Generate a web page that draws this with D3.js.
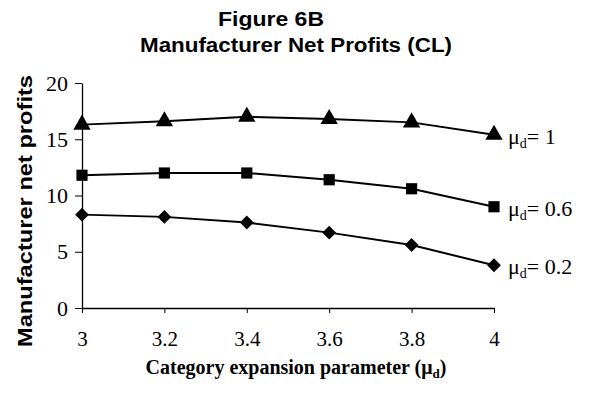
<!DOCTYPE html>
<html>
<head>
<meta charset="utf-8">
<script src="https://cdn.jsdelivr.net/npm/d3@7"></script>
<style>
  body { margin: 0; background: #fff; }
</style>
</head>
<body>
<script>
// x values (category expansion parameter)
var xValues = [3, 3.2, 3.4, 3.6, 3.8, 4];

// one series per mu_d
var mu1 = [16.3, 16.6, 17.0, 16.8, 16.5, 15.4];
var mu06 = [11.8, 12.0, 12.0, 11.4, 10.6, 9.0];
var mu02 = [8.3, 8.1, 7.6, 6.7, 5.6, 3.8];

var seriesNames = ["1", "0.6", "0.2"];
var yTicks = [0, 5, 10, 15, 20];

var width = 600, height = 400;
var margin = ({top: 83, right: 106, bottom: 92, left: 82});

var svg = d3.select("body").append("svg")
    .attr("width", width)
    .attr("height", height);

var x = d3.scaleLinear()
    .domain([3, 4])
    .range([margin.left, width - margin.right]);

var y = d3.scaleLinear()
    .domain([0, 20])
    .range([height - margin.bottom, margin.top]);

var serif = "'Liberation Serif', 'Times New Roman', serif";
var sans = "'Liberation Sans', Arial, sans-serif";

// title (stretched a bit wide like the scan)
svg.append("text")
    .attr("x", 271).attr("y", 26)
    .attr("text-anchor", "middle")
    .attr("textLength", 106).attr("lengthAdjust", "spacingAndGlyphs")
    .style("font-family", sans).style("font-weight", "bold").style("font-size", "20px")
    .text("Figure 6B");
svg.append("text")
    .attr("x", 296).attr("y", 52)
    .attr("text-anchor", "middle")
    .attr("textLength", 312).attr("lengthAdjust", "spacingAndGlyphs")
    .style("font-family", sans).style("font-weight", "bold").style("font-size", "20px")
    .text("Manufacturer Net Profits (CL)");

// axes
var xAxis = g => g
    .attr("transform", `translate(0,${y(0)})`)
    .call(d3.axisBottom(x).tickValues(xValues).tickFormat(d3.format("")).tickSize(5).tickPadding(18).tickSizeOuter(0))
    .call(g => g.select(".domain").attr("stroke-width", 1.3))
    .call(g => g.selectAll("text").style("font-family", serif).style("font-size", "21px").attr("fill", "#000"));

var yAxis = g => g
    .attr("transform", `translate(${x(3)},0)`)
    .call(d3.axisLeft(y).tickValues(yTicks).tickSize(7).tickPadding(7).tickSizeOuter(0))
    .call(g => g.select(".domain").attr("stroke-width", 1.3))
    .call(g => g.selectAll("text").style("font-family", serif).style("font-size", "22px").attr("fill", "#000"));

svg.append("g").call(xAxis);
svg.append("g").call(yAxis);

// axis titles
svg.append("text")
    .attr("transform", "translate(32," + 211 + ") rotate(-90)")
    .attr("text-anchor", "middle")
    .attr("textLength", 272).attr("lengthAdjust", "spacingAndGlyphs")
    .style("font-family", sans).style("font-weight", "bold").style("font-size", "21px")
    .text("Manufacturer net profits");

var xt = svg.append("text")
    .attr("x", 296).attr("y", 374)
    .attr("text-anchor", "middle")
    .style("font-family", serif).style("font-weight", "bold").style("font-size", "20px");
xt.append("tspan").text("Category expansion parameter (\u03bc");
xt.append("tspan").attr("dy", 4).style("font-size", "13px").text("d");
xt.append("tspan").attr("dy", -4).text(")");

// lines + markers
var data = [mu1, mu06, mu02];

// triangle, square, diamond (square turned 45deg)
var markers = [
    {type: d3.symbolTriangle, size: 130, rot: 0},
    {type: d3.symbolSquare, size: 125, rot: 0},
    {type: d3.symbolSquare, size: 95, rot: 45}
];

var line = d3.line()
    .x((d, i) => x(xValues[i]))
    .y(d => y(d));

data.forEach(function(vals, k) {
    svg.append("path")
        .datum(vals)
        .attr("fill", "none")
        .attr("stroke", "#000")
        .attr("stroke-width", 2)
        .attr("d", line);

    svg.append("g").selectAll("path").data(vals).enter().append("path")
        .attr("transform", (d, i) => `translate(${x(xValues[i])},${y(d)}) rotate(${markers[k].rot})`)
        .attr("d", d3.symbol().type(markers[k].type).size(markers[k].size))
        .attr("fill", "#000");

    // series label
    var last = vals[vals.length - 1];
    var t = svg.append("text")
        .attr("x", x(4) + 14)
        .attr("y", y(last) + 9)
        .style("font-family", serif).style("font-size", "22px");
    t.append("tspan").text("\u03bc");
    t.append("tspan").attr("dy", 4).style("font-size", "14px").text("d");
    t.append("tspan").attr("dy", -4).text("= " + seriesNames[k]);
});
</script>
</body>
</html>
